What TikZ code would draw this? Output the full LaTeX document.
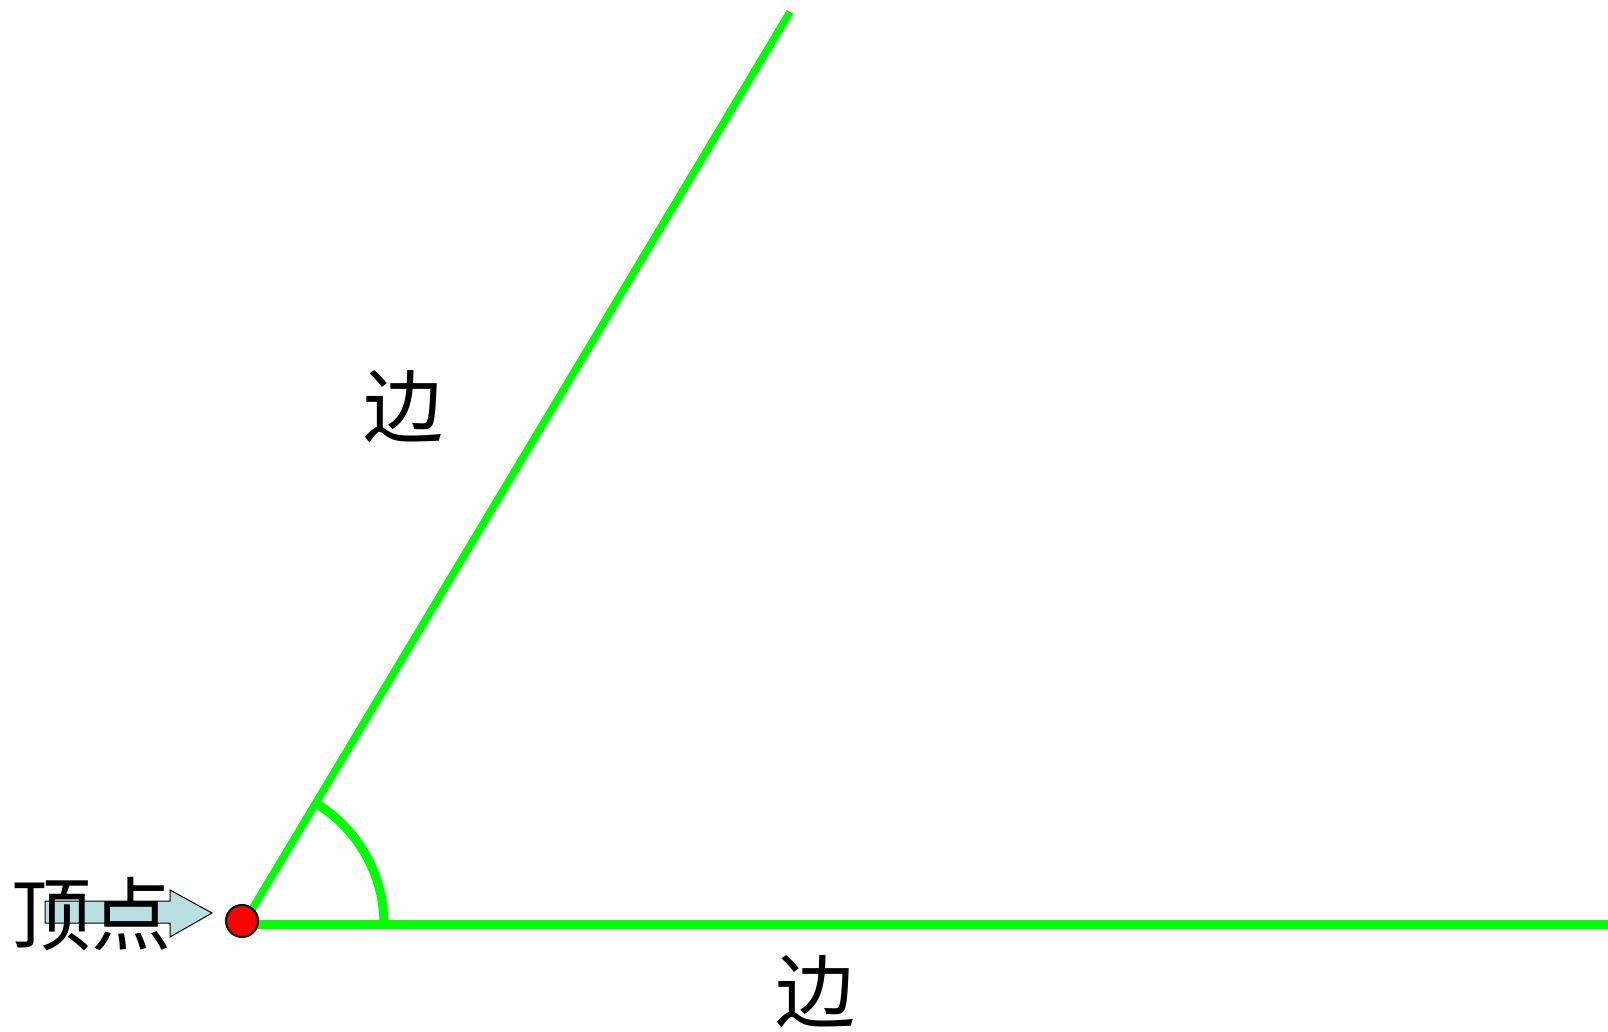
\documentclass[tikz,border=0pt]{standalone}
\usepackage{fontspec}
\newfontfamily\cjk{Noto Sans CJK SC}
\definecolor{side}{RGB}{0,255,0}
\definecolor{arrowfill}{RGB}{185,223,227}
\begin{document}
\begin{tikzpicture}[x=1pt,y=-1pt,
  sideline/.style={draw=side,line cap=butt},
  lbl/.style={font=\cjk\fontsize{80}{80}\selectfont,inner sep=0pt}]
\useasboundingbox (0,0) rectangle (1608,1031);
\coordinate (V) at (242,921);
\coordinate (VA) at (245,921);
\coordinate (VB) at (242,924.5);
\coordinate (T) at (790,12);
\coordinate (R) at (1608,924.5);
% arrow
\draw[fill=arrowfill,line width=1pt] (45,901) -- (170,901) -- (170,890) -- (212,913) -- (170,937) -- (170,923) -- (45,923) -- cycle;
\node[lbl] (dd) at (92,914) {顶点};
% sides
\draw[sideline,line width=7.5pt] (VA) -- (T);
\draw[sideline,line width=9.5pt] (VB) -- (R);
\draw[sideline,line width=9pt] ([shift={(0:142)}]VB) arc[start angle=0,end angle=-59,radius=142];
\node[draw,fill=red,circle,minimum size=32pt,inner sep=0pt,line width=2pt] (vx) at (V) {};
\node[lbl] (s1) at (403,407) {边};
\node[lbl] (s2) at (815,992) {边};
\end{tikzpicture}
\end{document}
